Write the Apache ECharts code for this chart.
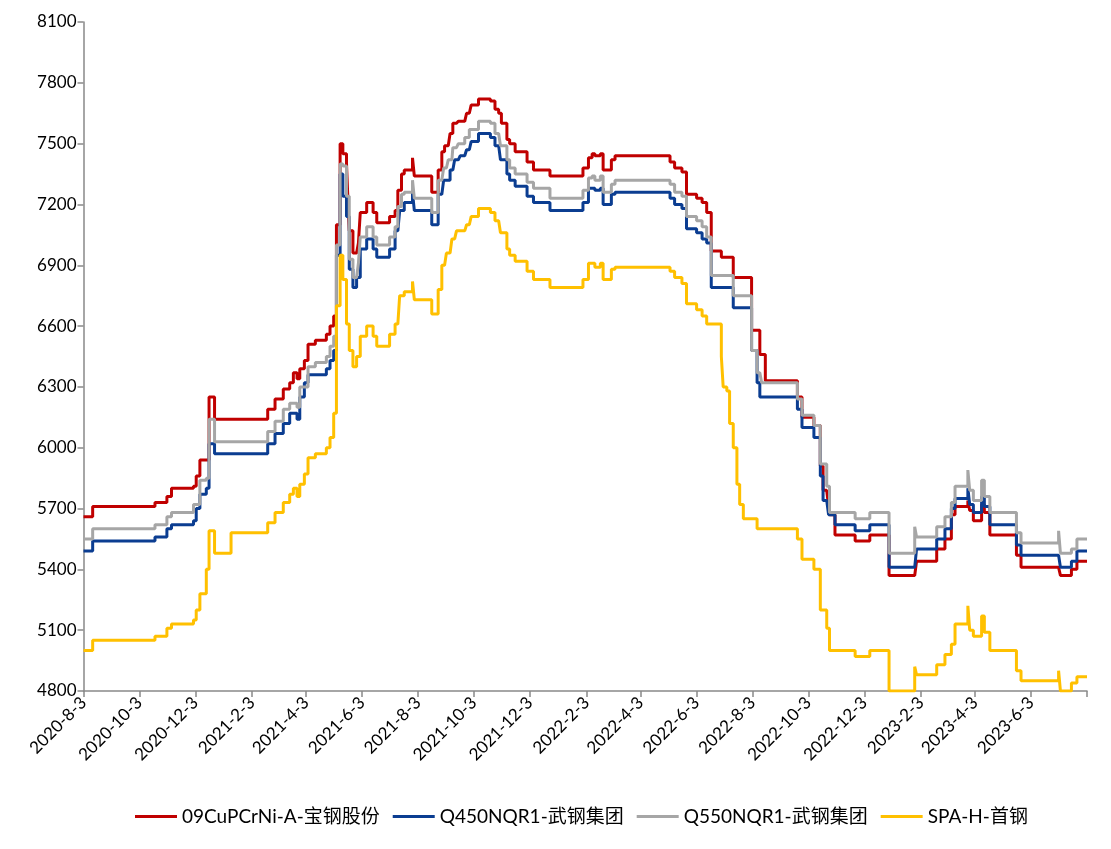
<!DOCTYPE html>
<html><head><meta charset="utf-8">
<script src="https://cdn.jsdelivr.net/npm/echarts@6/dist/echarts.min.js"></script>
<style>html,body{margin:0;padding:0;background:#fff}#c{width:1111px;height:849px}</style>
</head><body><div id="c"></div>
<script>
const seriesNames = ['09CuPCrNi-A-宝钢股份', 'Q450NQR1-武钢集团', 'Q550NQR1-武钢集团', 'SPA-H-首钢'];
const seriesColors = ['#C00000', '#0B3D91', '#A6A6A6', '#FFC000'];

// dates on which prices changed (step series)
const changeDates = [
'2020-8-3','2020-8-13','2020-10-20','2020-11-2','2020-11-7','2020-12-1','2020-12-4','2020-12-8','2020-12-15','2020-12-18',
'2020-12-24','2021-1-11','2021-2-20','2021-2-28','2021-3-9','2021-3-16','2021-3-20','2021-3-24','2021-3-27','2021-4-1',
'2021-4-5','2021-4-13','2021-4-25','2021-4-29','2021-5-3','2021-5-6','2021-5-10','2021-5-13','2021-5-17','2021-5-19',
'2021-5-20','2021-5-24','2021-5-28','2021-5-30','2021-6-1','2021-6-8','2021-6-15','2021-6-19','2021-7-3','2021-7-9',
'2021-7-12','2021-7-14','2021-7-16','2021-7-19','2021-7-28','2021-7-30','2021-8-18','2021-8-25','2021-8-29','2021-8-31',
'2021-9-1','2021-9-3','2021-9-5','2021-9-7','2021-9-9','2021-9-10','2021-9-12','2021-9-14','2021-9-16','2021-9-18',
'2021-9-23','2021-9-25','2021-9-28','2021-9-30','2021-10-8','2021-10-21','2021-10-26','2021-10-30','2021-11-1','2021-11-2',
'2021-11-8','2021-11-11','2021-11-17','2021-11-30','2021-12-7','2021-12-25','2022-1-30','2022-2-5','2022-2-9','2022-2-12',
'2022-2-18','2022-2-21','2022-3-2','2022-3-6','2022-5-5','2022-5-10','2022-5-18','2022-5-23','2022-6-3','2022-6-9',
'2022-6-14','2022-6-19','2022-6-30','2022-7-2','2022-7-6','2022-7-9','2022-7-13','2022-7-17','2022-7-20','2022-7-24',
'2022-8-2','2022-8-8','2022-8-11','2022-8-13','2022-8-17','2022-9-21','2022-9-26','2022-10-9','2022-10-16','2022-10-19',
'2022-10-23','2022-10-25','2022-10-26','2022-11-1','2022-11-23','2022-12-9','2022-12-30','2023-1-27','2023-1-29','2023-2-20',
'2023-3-1','2023-3-8','2023-3-12','2023-3-26','2023-3-28','2023-4-1','2023-4-10','2023-4-13','2023-4-19','2023-5-18',
'2023-5-23','2023-7-3','2023-7-5','2023-7-17','2023-7-23','2023-8-3'
];

const redValues = [
5660,5710,5730,5760,5800,5810,5860,5940,5940,6250,
6140,6140,6190,6240,6290,6320,6370,6340,6390,6430,
6510,6530,6560,6600,6650,7100,7500,7450,7400,7170,
7070,6960,6960,7010,7160,7210,7160,7110,7140,7170,
7270,7270,7350,7370,7430,7340,7260,7370,7460,7460,
7490,7490,7490,7550,7550,7600,7600,7600,7610,7610,
7610,7650,7650,7690,7720,7710,7670,7650,7650,7600,
7520,7500,7460,7410,7370,7340,7380,7430,7450,7440,
7450,7370,7420,7440,7410,7380,7360,7250,7230,7210,
7160,6970,6940,6940,6940,6940,6840,6840,6840,6840,
6580,6580,6460,6460,6330,6250,6150,6110,5910,5790,
5790,5710,5670,5570,5540,5570,5370,5370,5440,5500,
5550,5670,5710,5740,5690,5640,5720,5680,5570,5470,
5410,5410,5370,5400,5440,5440
];

const blueValues = [
5490,5540,5560,5600,5620,5640,5700,5770,5800,6020,
5970,5970,6020,6070,6120,6170,6170,6140,6250,6320,
6360,6360,6390,6430,6480,6950,7350,7240,7140,7140,
6880,6790,6840,6840,6980,7030,6980,6940,6980,7070,
7070,7170,7170,7210,7260,7170,7100,7250,7250,7320,
7320,7320,7320,7370,7370,7370,7420,7420,7420,7440,
7440,7470,7470,7510,7550,7530,7490,7490,7420,7420,
7350,7320,7290,7240,7210,7170,7210,7280,7280,7270,
7280,7200,7250,7260,7230,7200,7180,7080,7060,7030,
7010,6790,6790,6790,6790,6790,6690,6690,6690,6690,
6480,6320,6250,6250,6250,6190,6100,6050,5860,5740,
5740,5670,5670,5620,5590,5620,5410,5410,5500,5550,
5600,5700,5750,5800,5720,5680,5760,5710,5620,5520,
5470,5470,5410,5440,5490,5490
];

const grayValues = [
5550,5600,5620,5660,5680,5720,5720,5840,5850,6140,
6030,6030,6080,6130,6190,6220,6220,6200,6300,6300,
6400,6420,6450,6500,6550,7000,7400,7390,7240,7240,
6930,6840,6840,6910,7040,7090,7040,7000,7040,7090,
7190,7190,7250,7260,7320,7230,7160,7320,7320,7380,
7380,7380,7420,7420,7420,7480,7480,7480,7500,7500,
7530,7530,7570,7570,7610,7600,7550,7550,7490,7490,
7420,7380,7350,7310,7280,7230,7270,7330,7340,7320,
7340,7260,7300,7320,7300,7260,7240,7140,7120,7090,
7040,6850,6850,6850,6850,6850,6750,6750,6750,6750,
6480,6370,6370,6320,6320,6240,6160,6110,5920,5920,
5810,5810,5680,5680,5650,5680,5480,5610,5560,5610,
5660,5730,5810,5890,5790,5740,5840,5760,5680,5580,
5530,5590,5480,5500,5550,5550
];

const yellowValues = [
5000,5050,5070,5110,5130,5150,5200,5280,5400,5590,
5480,5580,5630,5680,5730,5770,5800,5760,5820,5870,
5950,5970,6000,6050,6170,6700,6950,6830,6610,6610,
6480,6400,6450,6450,6550,6600,6550,6500,6560,6610,
6610,6750,6750,6770,6820,6730,6660,6780,6900,6900,
6900,6960,6960,6960,7030,7030,7030,7070,7070,7070,
7070,7100,7100,7140,7180,7160,7120,7120,7060,7060,
6980,6950,6920,6870,6830,6790,6830,6910,6910,6890,
6910,6830,6880,6890,6870,6840,6810,6710,6680,6650,
6610,6610,6450,6300,6280,6120,6000,5820,5720,5650,
5650,5600,5600,5600,5600,5550,5450,5400,5200,5200,
5110,5110,5000,5000,4970,5000,4800,4920,4880,4930,
4980,5030,5130,5220,5100,5070,5170,5090,5000,4900,
4850,4900,4800,4840,4870,4870
];

const yMin = 4800, yMax = 8100, yStep = 300;
const axisStart = [2020, 8, 3], axisEnd = [2023, 8, 3];

// daily category axis
const categories = [];
for (let t = Date.UTC(axisStart[0], axisStart[1]-1, axisStart[2]); t <= Date.UTC(axisEnd[0], axisEnd[1]-1, axisEnd[2]); t += 86400000) {
  const d = new Date(t);
  categories.push(d.getUTCFullYear() + '-' + (d.getUTCMonth()+1) + '-' + d.getUTCDate());
}
function isTickDate(v) { const p = v.split('-'); return p[2] === '3' && (+p[1]) % 2 === 0; }

const valueSets = [redValues, blueValues, grayValues, yellowValues];
const FONT = "Lato, 'Noto Sans CJK SC', sans-serif";
const axisColor = '#898989';

const chart = echarts.init(document.getElementById('c'), null, {renderer: 'canvas'});
chart.setOption({
  animation: false,
  backgroundColor: '#fff',
  grid: {left: 83.5, right: 24, top: 22, bottom: 158, containLabel: false},
  legend: {
    bottom: 18, left: 130,
    icon: 'rect', itemWidth: 42, itemHeight: 3, itemGap: 13,
    textStyle: {fontFamily: FONT, fontSize: 19, color: '#000'},
    data: seriesNames
  },
  xAxis: {
    type: 'category', data: categories, boundaryGap: false,
    axisLine: {show: true, lineStyle: {color: axisColor, width: 1.5}},
    axisTick: {show: true, length: 6, lineStyle: {color: axisColor, width: 1.5},
      interval: function (i, v) { return isTickDate(v); }},
    axisLabel: {rotate: 45, margin: 9, color: '#000', fontFamily: FONT, fontSize: 17,
      interval: function (i, v) { return isTickDate(v) && i < categories.length - 1; }},
    splitLine: {show: false}
  },
  yAxis: {
    type: 'value', min: yMin, max: yMax, interval: yStep,
    axisLine: {show: true, lineStyle: {color: axisColor, width: 1.5}},
    axisTick: {show: true, length: 6, lineStyle: {color: axisColor, width: 1.5}},
    axisLabel: {color: '#000', fontFamily: FONT, fontSize: 17, margin: 7,
      formatter: function (v) { return String(v); }},
    splitLine: {show: false}
  },
  series: seriesNames.map((name, k) => ({
    name: name, type: 'line', step: 'end', symbol: 'none',
    color: seriesColors[k],
    lineStyle: {width: 3, color: seriesColors[k]},
    data: changeDates.map((d, i) => [d, valueSets[k][i]])
  }))
});
</script></body></html>
